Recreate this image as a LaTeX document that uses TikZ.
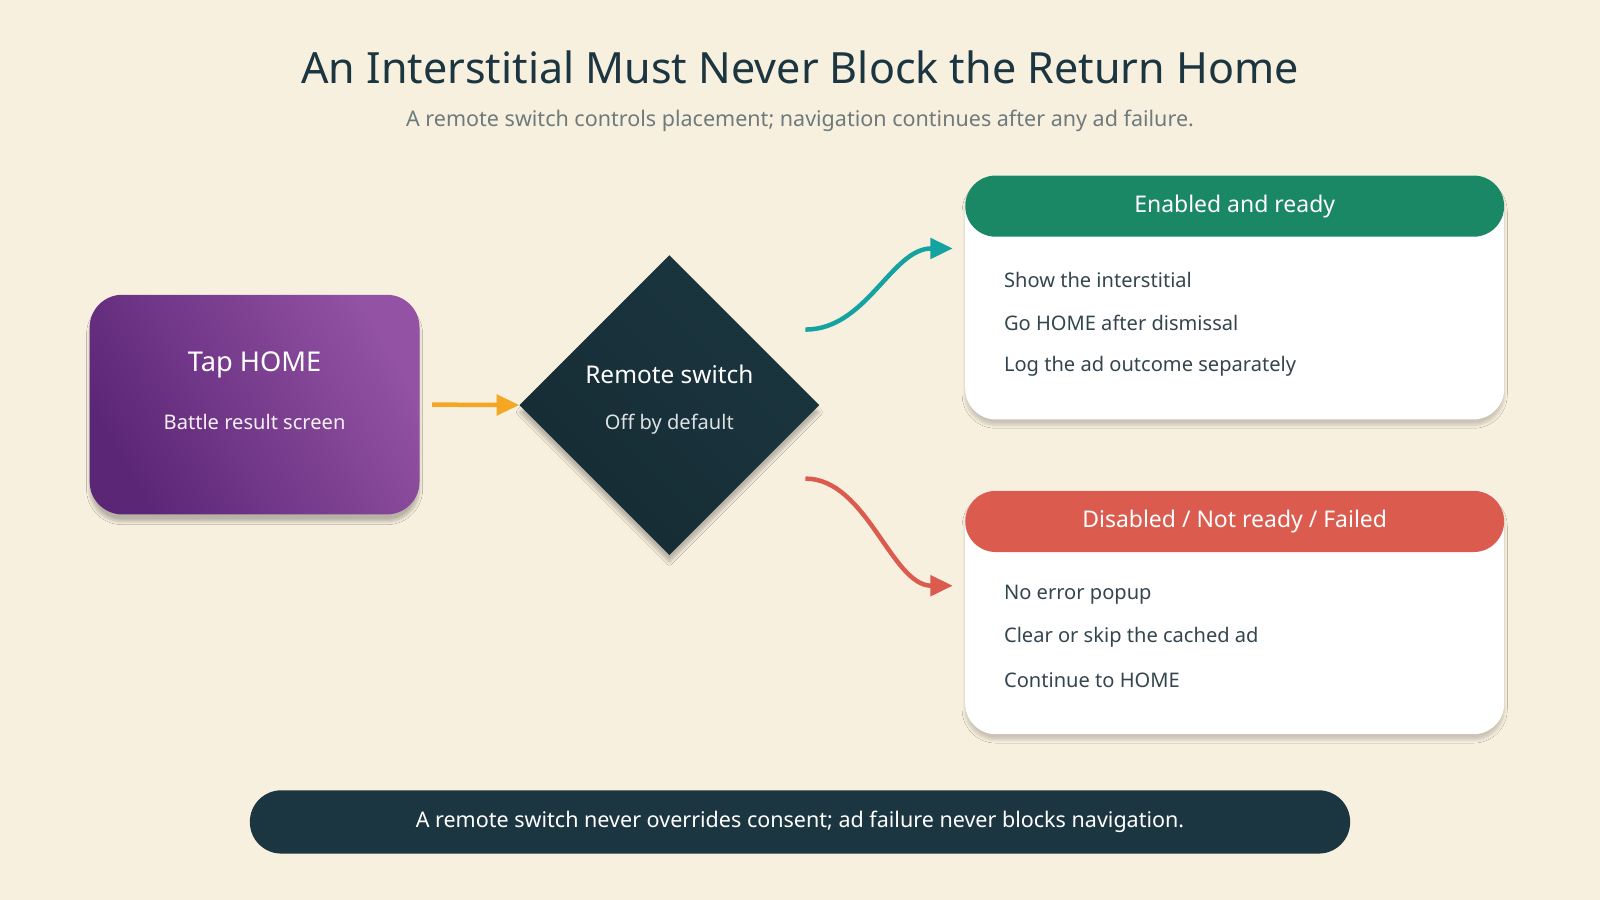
\documentclass[tikz,border=0pt]{standalone}
\usepackage{fontspec}
\setmainfont{Noto Sans}
\usetikzlibrary{shapes.geometric,shadows.blur,arrows.meta,positioning}
\definecolor{bg}{HTML}{F8F0DF}
\definecolor{ink}{HTML}{1B3640}
\definecolor{txt}{HTML}{34464D}
\definecolor{subgray}{HTML}{6F7A7C}
\definecolor{grn}{HTML}{1A8765}
\definecolor{rd}{HTML}{DC5B4F}
\definecolor{teal}{HTML}{14A3A0}
\definecolor{orng}{HTML}{F5A623}
\definecolor{purpA}{HTML}{5C2677}
\definecolor{purpB}{HTML}{9352A3}
\tikzset{
  card/.style={fill=white, rounded corners=0.75cm, minimum width=13.2cm, minimum height=5.975cm,
    blur shadow={shadow blur steps=8, shadow xshift=0pt, shadow yshift=-4pt, shadow opacity=18}},
  head/.style={rounded corners=0.75cm, minimum width=13.2cm, minimum height=1.5cm,
    text=white, font=\bfseries\fontsize{16}{19}\selectfont},
  item/.style={anchor=west, text=txt, font=\fontsize{14}{17}\selectfont},
  flow/.style={-{Triangle[length=0.55cm,width=0.5cm]}, line width=1.1mm},
}
\begin{document}
\begin{tikzpicture}[x=0.025cm, y=-0.025cm]
\fill[bg] (0,0) rectangle (1568,882);
\useasboundingbox (0,0) rectangle (1568,882);
% title
\node[text=ink, font=\bfseries\fontsize{30}{36}\selectfont] (title) at (784,66) {An Interstitial Must Never Block the Return Home};
\node[text=subgray, font=\fontsize{15}{18}\selectfont] (sub) at (784,118) {A remote switch controls placement; navigation continues after any ad failure.};
% start box
\node[shading=axis, left color=purpA, right color=purpB, shading angle=120, rounded corners=0.8cm,
  minimum width=8.08cm, minimum height=5.38cm,
  blur shadow={shadow blur steps=8, shadow xshift=0pt, shadow yshift=-5pt, shadow opacity=25}] (tap) at (249.5,396.5) {};
\node[text=white, font=\bfseries\fontsize{19}{23}\selectfont] at (249.5,358) {Tap HOME};
\node[text=white!92!purpB, font=\fontsize{14}{17}\selectfont] at (249.5,414) {Battle result screen};
% decision
\node[diamond, aspect=1, inner sep=0pt, minimum width=7.35cm, minimum height=7.35cm,
  shading=axis, left color=ink!80!black, right color=ink, shading angle=135,
  blur shadow={shadow blur steps=8, shadow xshift=0pt, shadow yshift=-5pt, shadow opacity=25}] (sw) at (656,397) {};
\node[text=white, font=\bfseries\fontsize{17}{21}\selectfont] at (656,367) {Remote switch};
\node[text=white!85!ink, font=\fontsize{14}{17}\selectfont] at (656,416) {Off by default};
% outcome cards
\node[card] (ok) at (1210,291.5) {};
\node[head, fill=grn] (okh) at (1210,202) {Enabled and ready};
\node[item] at (979,274) {Show the interstitial};
\node[item] at (979,316) {Go HOME after dismissal};
\node[item] at (979,359) {Log the ad outcome separately};
\node[card] (bad) at (1210,600) {};
\node[head, fill=rd] (badh) at (1210,511) {Disabled / Not ready / Failed};
\node[item] at (979,583) {No error popup};
\node[item] at (979,625) {Clear or skip the cached ad};
\node[item] at (979,667) {Continue to HOME};
% connectors
\coordinate (okS) at ([xshift=-0.35cm,yshift=1.85cm]sw.east);
\coordinate (badS) at ([xshift=-0.35cm,yshift=-1.8cm]sw.east);
\draw[flow, orng] ([xshift=0.3cm]tap.east) -- (sw.west);
\draw[flow, teal] (okS) .. controls +(60,0) and +(-60,0) .. ([xshift=-0.3cm,yshift=1.2cm]ok.west);
\draw[flow, rd] (badS) .. controls +(60,0) and +(-60,0) .. ([xshift=-0.3cm,yshift=0.65cm]bad.west);
% footer
\node[fill=ink, rounded corners=0.77cm, minimum width=26.95cm, minimum height=1.55cm,
  text=white, font=\bfseries\fontsize{15}{18}\selectfont] (note) at (784,805.5)
  {A remote switch never overrides consent; ad failure never blocks navigation.};
\end{tikzpicture}
\end{document}
